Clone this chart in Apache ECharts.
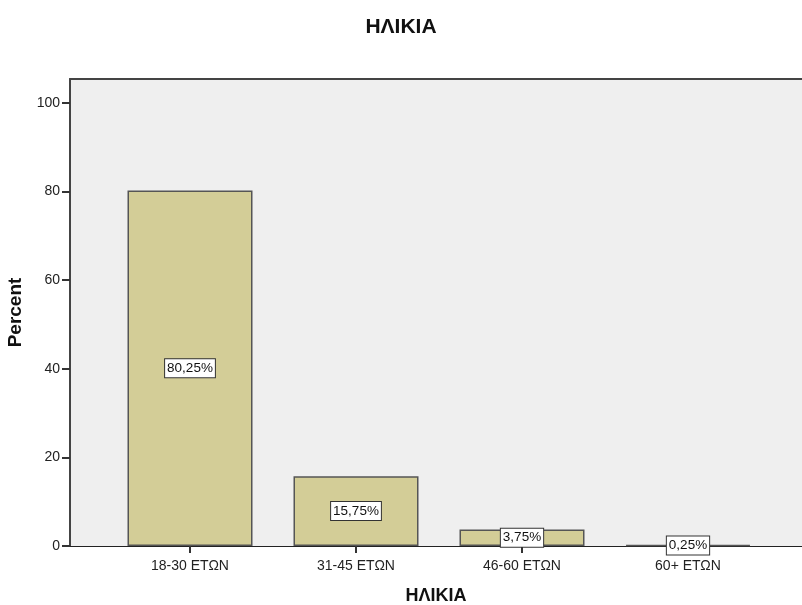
<!DOCTYPE html>
<html>
<head>
<meta charset="utf-8">
<script src="https://cdn.jsdelivr.net/npm/echarts@6/dist/echarts.min.js"></script>
<style>html,body{margin:0;padding:0;background:#fff}#c{width:802px;height:605px}</style>
</head>
<body>
<div id="c"></div>
<script>
var categories = ['18-30 ΕΤΩΝ', '31-45 ΕΤΩΝ', '46-60 ΕΤΩΝ', '60+ ΕΤΩΝ'];
var percents = [80.25, 15.75, 3.75, 0.25];
var yTicks = [0, 20, 40, 60, 80, 100];
var yMax = 105.4;

var chart = echarts.init(document.getElementById('c'), null, {renderer: 'canvas'});
var font = '"Liberation Sans", Arial, sans-serif';
chart.setOption({
  animation: false,
  title: {
    text: 'ΗΛΙΚΙΑ', left: 'center', top: 12,
    textStyle: {fontFamily: font, fontSize: 21, fontWeight: 'bold', color: '#111'}
  },
  grid: [
    {left: 70, right: 0, top: 79, bottom: 59, show: true, backgroundColor: '#efefef', borderWidth: 0,
     containLabel: false, outerBoundsMode: 'none'},
    {left: 107, right: 31, top: 79, bottom: 59, containLabel: false, outerBoundsMode: 'none'}
  ],
  xAxis: [
    {gridIndex: 0, type: 'value', min: 0, max: 1, position: 'bottom',
     axisLine: {show: true, onZero: false, lineStyle: {color: '#222', width: 1}},
     axisTick: {show: false}, axisLabel: {show: false}, splitLine: {show: false},
     name: 'ΗΛΙΚΙΑ', nameLocation: 'middle', nameGap: 41,
     nameTextStyle: {fontFamily: font, fontSize: 18, fontWeight: 'bold', color: '#111'}},
    {gridIndex: 0, type: 'value', min: 0, max: 1, position: 'top',
     axisLine: {show: true, onZero: false, lineStyle: {color: '#444', width: 2}},
     axisTick: {show: false}, axisLabel: {show: false}, splitLine: {show: false}},
    {gridIndex: 1, type: 'category', data: categories, position: 'bottom',
     axisLine: {show: false, onZero: false},
     axisTick: {show: true, alignWithLabel: true, length: 7, lineStyle: {color: '#333', width: 2}},
     axisLabel: {fontFamily: font, fontSize: 14, color: '#222', margin: 13}}
  ],
  yAxis: [
    {gridIndex: 0, type: 'value', min: 0, max: yMax, interval: 20,
     axisLine: {show: true, lineStyle: {color: '#444', width: 2}},
     axisTick: {show: true, length: 8, customValues: yTicks, lineStyle: {color: '#333', width: 2}},
     axisLabel: {fontFamily: font, fontSize: 14, color: '#222', margin: 10, customValues: yTicks,
       formatter: function (v) { return yTicks.indexOf(v) >= 0 ? String(v) : ''; }},
     splitLine: {show: false},
     name: 'Percent', nameLocation: 'middle', nameGap: 40, nameRotate: 90,
     nameTextStyle: {fontFamily: font, fontSize: 19, fontWeight: 'bold', color: '#111'}},
    {gridIndex: 1, type: 'value', min: 0, max: yMax, show: false}
  ],
  series: [{
    type: 'bar', xAxisIndex: 2, yAxisIndex: 1,
    data: percents, barWidth: 125, z: 3,
    itemStyle: {color: '#d3cd97', borderColor: '#555', borderWidth: 1.5},
    label: {
      show: true, position: 'inside',
      formatter: function (p) { return p.value.toFixed(2).replace('.', ',') + '%'; },
      fontFamily: font, fontSize: 13.5, color: '#111',
      backgroundColor: '#fff', borderColor: '#333', borderWidth: 1, padding: [3, 2, 1, 2]
    },
    labelLayout: {hideOverlap: false}
  }]
});
</script>
</body>
</html>
